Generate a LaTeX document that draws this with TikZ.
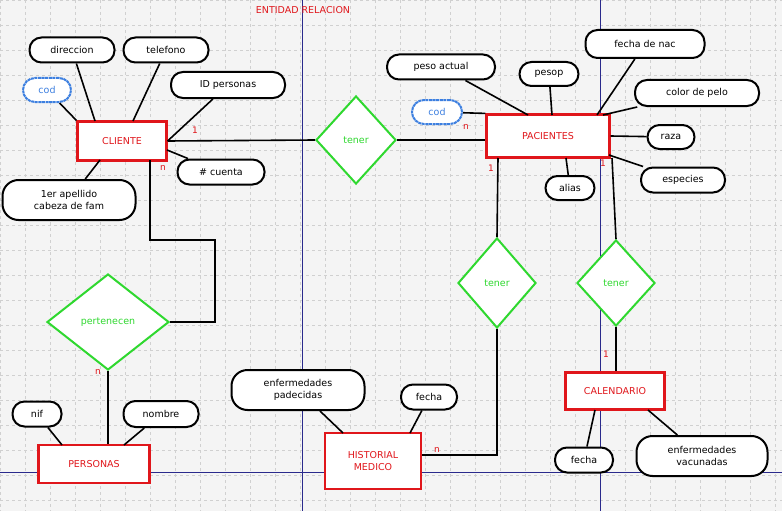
\documentclass[tikz,border=0pt]{standalone}
\usepackage{fontspec}
\setmainfont{DejaVu Sans}
\usetikzlibrary{shapes.geometric}
\definecolor{bg}{HTML}{F4F4F4}
\definecolor{ent}{HTML}{E0161B}
\definecolor{rel}{HTML}{2FD82F}
\definecolor{codb}{HTML}{3C7FE0}
\definecolor{gl}{HTML}{D0D0D0}
\definecolor{bl}{HTML}{2A2A8C}
\begin{document}
\begin{tikzpicture}[x=1pt,y=-1pt,font=\fontsize{9.5}{11.5}\selectfont,
  ent/.style={draw=ent,line width=2.2pt,fill=white,text=ent,align=center,inner sep=0},
  att/.style={draw=black,line width=2pt,fill=white,rounded corners=12pt,align=center,inner sep=0},
  key/.style={att,draw=codb,text=codb,dash pattern=on 3pt off 0.6pt},
  rel/.style={diamond,draw=rel,line width=2pt,fill=white,text=rel,inner sep=0},
  ln/.style={line width=1.6pt},
  lab/.style={text=ent,font=\fontsize{9}{10}\selectfont}]
\fill[bg] (0,0) rectangle (782,511);
\useasboundingbox (0,0) rectangle (782,511);
\foreach \i in {0,25,...,775} \draw[gl,dashed,line width=0.4pt] (\i,0) -- (\i,511);
\foreach \j in {0,25,...,500} \draw[gl,dashed,line width=0.4pt] (0,\j) -- (782,\j);
\draw[bl,line width=0.8pt] (302,0) -- (302,511) (600,0) -- (600,511) (0,472) -- (782,472);
\node[text=ent] (title) at (303,10) {ENTIDAD RELACION};
% entities
\node[ent,minimum width=89pt,minimum height=39pt] (cli) at (122,141) {CLIENTE};
\node[ent,minimum width=123pt,minimum height=43pt] (pac) at (548,136) {PACIENTES};
\node[ent,minimum width=99pt,minimum height=37pt] (cal) at (615,391) {CALENDARIO};
\node[ent,minimum width=96pt,minimum height=56pt] (his) at (373,461) {HISTORIAL\\MEDICO};
\node[ent,minimum width=111pt,minimum height=38pt] (per) at (94,464) {PERSONAS};
% relations
\node[rel,minimum width=80pt,minimum height=88pt] (r1) at (356,140) {tener};
\node[rel,minimum width=78pt,minimum height=90pt] (r2) at (497,283) {tener};
\node[rel,minimum width=78pt,minimum height=86pt] (r3) at (616,283) {tener};
\node[rel,minimum width=122pt,minimum height=96pt] (r4) at (108,322) {pertenecen};
% attributes
\node[att,minimum width=85pt,minimum height=25pt] (dir) at (72,50) {direccion};
\node[att,minimum width=85pt,minimum height=25pt] (tel) at (166,50) {telefono};
\node[key,minimum width=48pt,minimum height=24pt] (cod1) at (47,90) {cod};
\node[att,minimum width=114pt,minimum height=26pt] (idp) at (228,85) {ID personas};
\node[att,minimum width=87pt,minimum height=25pt] (cta) at (221,172) {\# cuenta};
\node[att,minimum width=133pt,minimum height=40pt,rounded corners=16pt] (ape) at (69,200) {1er apellido\\cabeza de fam};
\node[key,minimum width=50pt,minimum height=24pt] (cod2) at (437,112) {cod};
\node[att,minimum width=108pt,minimum height=25pt] (pes) at (441,67) {peso actual};
\node[att,minimum width=59pt,minimum height=24pt] (pesop) at (549,74) {pesop};
\node[att,minimum width=119pt,minimum height=28pt] (fn) at (645,44) {fecha de nac};
\node[att,minimum width=124pt,minimum height=26pt] (cp) at (697,93) {color de pelo};
\node[att,minimum width=47pt,minimum height=24pt] (raza) at (671,137) {raza};
\node[att,minimum width=84pt,minimum height=25pt] (esp) at (683,180) {especies};
\node[att,minimum width=49pt,minimum height=24pt] (ali) at (570,188) {alias};
\node[att,minimum width=58pt,minimum height=25pt] (fc) at (584,460) {fecha};
\node[att,minimum width=131pt,minimum height=40pt,rounded corners=16pt] (enfv) at (702,456) {enfermedades\\vacunadas};
\node[att,minimum width=133pt,minimum height=40pt,rounded corners=16pt] (enfp) at (298,390) {enfermedades\\padecidas};
\node[att,minimum width=56pt,minimum height=25pt] (fh) at (429,397) {fecha};
\node[att,minimum width=49pt,minimum height=25pt] (nif) at (37,414) {nif};
\node[att,minimum width=75pt,minimum height=26pt] (nom) at (161,414) {nombre};
% links
\begin{scope}[ln]
\draw (dir) -- (95,121);
\draw (tel) -- (133,121);
\draw (cod1) -- (cli.north west);
\draw (idp) -- (cli.east);
\draw (cta) -- (167,150);
\draw (ape) -- (100,160);
\draw (cod2) -- (pac.north west);
\draw (pes) -- (528,115);
\draw (pesop) -- (552,115);
\draw (fn) -- (597,115);
\draw (cp) -- (603,115);
\draw (raza) -- (pac.east);
\draw (esp) -- (609,155);
\draw (ali) -- (566,158);
\draw (fc) -- (595,410);
\draw (enfv) -- (648,410);
\draw (enfp) -- (343,433);
\draw (fh) -- (410,433);
\draw (nif) -- (62,445);
\draw (nom) -- (124,445);
\draw (cli.east) -- (r1.west);
\draw (r1.east) -- (pac.west |- 0,140);
\draw (150,160) -- (150,240) -- (215,240) -- (215,322) -- (r4.east);
\draw (r4.south) -- (per.north -| r4.south);
\draw (498,158) -- (r2.north);
\draw (r2.south) -- (497,455) -- (his.east |- 0,455);
\draw (612,158) -- (r3.north);
\draw (r3.south) -- (cal.north -| r3.south);
\end{scope}
\node[lab] (l1) at (195,130) {1};
\node[lab] (l2) at (466,127) {n};
\node[lab] (l3) at (163,168) {n};
\node[lab] (l4) at (98,372) {n};
\node[lab] (l5) at (491,168) {1};
\node[lab] (l6) at (437,450) {n};
\node[lab] (l7) at (603,163) {1};
\node[lab] (l8) at (606,354) {1};
\end{tikzpicture}
\end{document}
